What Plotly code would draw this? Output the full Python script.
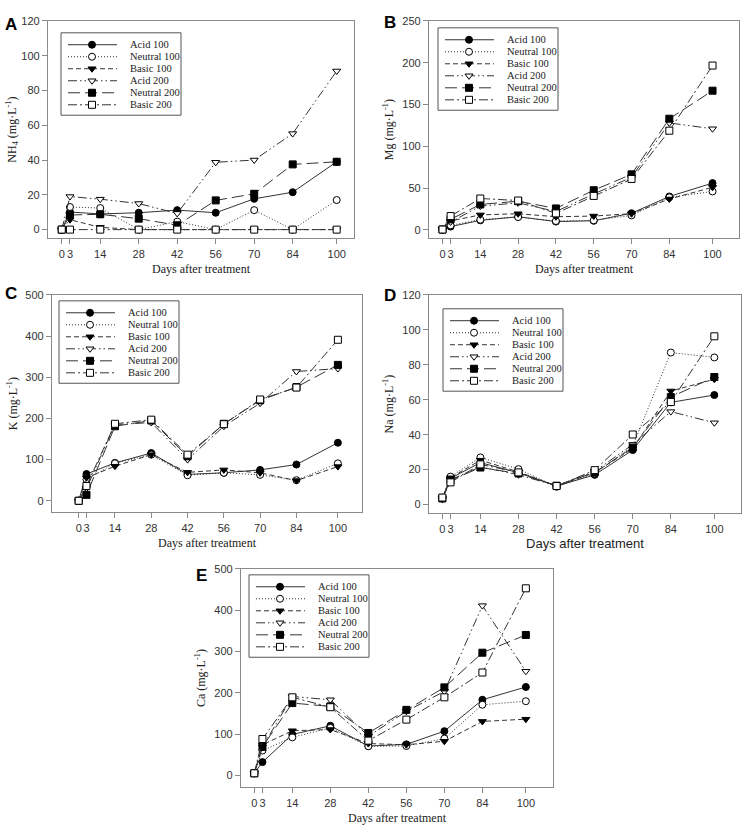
import plotly.graph_objects as go

W, H = 745, 830

days = [0, 3, 14, 28, 42, 56, 70, 84, 100]
day_labels = ["0", "3", "14", "28", "42", "56", "70", "84", "100"]
series_names = ["Acid 100", "Neutral 100", "Basic 100", "Acid 200", "Neutral 200", "Basic 200"]

# Panel A: NH4
nh4_acid100 = [0, 10.1, 9.0, 9.7, 11.2, 9.7, 17.7, 21.5, 39.0]
nh4_neutral100 = [0, 13.0, 12.4, 0, 4.6, 0, 11.2, 0, 17.0]
nh4_basic100 = [0, 5.7, 1.3, 0, 0, 0, 0, 0, 0]
nh4_acid200 = [0, 19.0, 17.5, 15.0, 9.3, 38.7, 40.0, 55.2, 91.2]
nh4_neutral200 = [0, 8.4, 8.8, 6.3, 2.5, 16.8, 20.6, 37.5, 39.0]
nh4_basic200 = [0, 0, 0, 0, 0, 0, 0, 0, 0]

# Panel B: Mg
mg_acid100 = [0.5, 4.0, 11.5, 15.8, 10.0, 11.0, 20.0, 40.0, 56.0]
mg_neutral100 = [0.5, 5.5, 12.3, 15.4, 10.7, 11.5, 17.4, 39.0, 46.0]
mg_basic100 = [0.5, 10.7, 18.0, 19.4, 15.8, 16.6, 19.4, 37.0, 51.0]
mg_acid200 = [0.5, 9.5, 28.5, 32.4, 22.0, 43.0, 63.0, 128.0, 121.0]
mg_neutral200 = [0.5, 12.7, 30.5, 34.4, 25.7, 47.5, 66.5, 133.0, 166.5]
mg_basic200 = [0.5, 16.6, 37.6, 35.2, 19.8, 40.7, 61.0, 118.7, 196.6]

# Panel C: K
k_acid100 = [0, 65, 92, 116, 64, 68, 75, 88, 141]
k_neutral100 = [0, 52, 91, 112, 62, 68, 63, 50, 91]
k_basic100 = [0, 56, 84, 112, 69, 75, 68, 49, 83]
k_acid200 = [0, 30, 185, 190, 100, 181, 237, 314, 321]
k_neutral200 = [0, 14.5, 181, 195, 108, 187, 244, 276, 330]
k_basic200 = [0, 36, 187, 197, 112, 186, 246, 275, 391]

# Panel D: Na
na_acid100 = [3.6, 15.0, 24.0, 18.2, 10.6, 17.0, 31.2, 58.5, 62.7]
na_neutral100 = [4.0, 16.0, 27.0, 20.3, 10.2, 17.8, 33.5, 87.0, 84.2]
na_basic100 = [3.0, 15.3, 25.4, 18.7, 10.6, 18.4, 32.0, 65.0, 71.7]
na_acid200 = [3.5, 14.2, 21.6, 17.0, 10.8, 19.0, 34.4, 53.2, 46.8]
na_neutral200 = [3.5, 13.8, 21.2, 17.8, 10.8, 18.4, 32.6, 61.5, 73.0]
na_basic200 = [4.0, 12.7, 23.0, 18.4, 10.6, 19.7, 40.1, 58.7, 96.3]

# Panel E: Ca
ca_acid100 = [5, 32, 99, 120, 71, 75, 107, 183, 214]
ca_neutral100 = [5, 60, 92, 115, 70.5, 71, 89, 171, 179.5]
ca_basic100 = [5, 74, 108, 111, 77, 74, 82.5, 130.6, 136]
ca_acid200 = [5, 69, 191, 183, 95, 155, 203.5, 411, 252]
ca_neutral200 = [5, 69, 175, 167, 102.6, 158.6, 213, 297, 340]
ca_basic200 = [5, 88, 189, 165, 84, 135, 189, 249, 453]

styles = [
    dict(dash="solid", symbol="circle", fill="black"),
    dict(dash="1px,2px", symbol="circle", fill="white"),
    dict(dash="5px,3px", symbol="triangle-down", fill="black"),
    dict(dash="9px,3px,1.5px,3px,1.5px,3px", symbol="triangle-down", fill="white"),
    dict(dash="12px,5px", symbol="square", fill="black"),
    dict(dash="9px,3px,2px,3px", symbol="square", fill="white"),
]

SERIF = "Liberation Serif, Times New Roman, serif"
SANS = "Liberation Sans, Arial, sans-serif"
LINEC = "#333333"
AXC = "#8a8a8a"

panels = [
    dict(letter="A", data=[nh4_acid100, nh4_neutral100, nh4_basic100, nh4_acid200, nh4_neutral200, nh4_basic200],
         box=(48, 354, 15, 234), xr=[-5, 106.3], yr=[-5, 120], yt=[0, 20, 40, 60, 80, 100, 120],
         ytitle="NH<sub>4</sub> (mg·L<sup>-1</sup>)", xsans=False, leg=(13, 12), lpos=(3, 19), ystand=2),
    dict(letter="B", data=[mg_acid100, mg_neutral100, mg_basic100, mg_acid200, mg_neutral200, mg_basic200],
         box=(429, 739, 15, 234), xr=[-5, 109.8], yr=[-10, 250], yt=[0, 50, 100, 150, 200, 250],
         ytitle="Mg (mg·L<sup>-1</sup>)", xsans=False, leg=(9, 7), lpos=(382, 17), ystand=6),
    dict(letter="C", data=[k_acid100, k_neutral100, k_basic100, k_acid200, k_neutral200, k_basic200],
         box=(52, 362, 291, 510), xr=[-10.3, 109.3], yr=[-28, 500], yt=[0, 100, 200, 300, 400, 500],
         ytitle="K (mg·L<sup>-1</sup>)", xsans=False, leg=(7, 6), lpos=(3, 290), ystand=5),
    dict(letter="D", data=[na_acid100, na_neutral100, na_basic100, na_acid200, na_neutral200, na_basic200],
         box=(429, 741, 291, 511), xr=[-4.9, 109.8], yr=[-5, 120], yt=[0, 20, 40, 60, 80, 100, 120],
         ytitle="Na (mg·L<sup>-1</sup>)", xsans=True, leg=(14, 14), lpos=(382, 292), ystand=6),
    dict(letter="E", data=[ca_acid100, ca_neutral100, ca_basic100, ca_acid200, ca_neutral200, ca_basic200],
         box=(241, 553, 567, 787), xr=[-4.9, 110], yr=[-29, 500], yt=[0, 100, 200, 300, 400, 500],
         ytitle="Ca (mg·L<sup>-1</sup>)", xsans=False, leg=(8, 6), lpos=(194, 574), ystand=6),
]

fig = go.Figure()
layout = dict(width=W, height=H, autosize=False, margin=dict(l=0, r=0, t=0, b=0),
              plot_bgcolor="white", paper_bgcolor="white", showlegend=False)
shapes = []
annotations = []

for i, p in enumerate(panels):
    n = "" if i == 0 else str(i + 1)
    xa, ya = "x" + n, "y" + n
    x0, x1, y0, y1 = p["box"]
    layout["xaxis" + n] = dict(
        domain=[x0 / W, x1 / W], range=p["xr"], anchor=ya, tickvals=days, ticktext=day_labels,
        tickangle=0, showline=True, linecolor=AXC, linewidth=1.2, mirror=True, ticks="outside",
        ticklen=5, tickcolor=AXC, showgrid=False, zeroline=False,
        tickfont=dict(family=SANS, size=11, color="#333"),
        title=dict(text="Days after treatment",
                   font=dict(family=SANS if p["xsans"] else SERIF, size=13 if p["xsans"] else 12, color="#222"),
                   standoff=5),
        fixedrange=True,
    )
    layout["yaxis" + n] = dict(
        domain=[1 - y1 / H, 1 - y0 / H], range=p["yr"], anchor=xa, tickvals=p["yt"],
        showline=True, linecolor=AXC, linewidth=1.2, mirror=True, ticks="outside",
        ticklen=5, tickcolor=AXC, showgrid=False, zeroline=False,
        tickfont=dict(family=SANS, size=11, color="#333"),
        title=dict(text=p["ytitle"], font=dict(family=SERIF, size=12, color="#222"), standoff=p["ystand"]),
        fixedrange=True,
    )
    # data traces
    for s, (name, vals) in enumerate(zip(series_names, p["data"])):
        st = styles[s]
        fig.add_trace(go.Scatter(
            x=days, y=vals, name=name, mode="lines+markers", xaxis=xa, yaxis=ya,
            line=dict(color=LINEC, width=1, dash=st["dash"]),
            marker=dict(symbol=st["symbol"], size=7, color=st["fill"], line=dict(color="black", width=1)),
            cliponaxis=False,
        ))

    # custom legend (px offsets converted to data coordinates of this panel)
    def px2x(px, x0=x0, x1=x1, xr=p["xr"]):
        return xr[0] + (px - x0) / (x1 - x0) * (xr[1] - xr[0])

    def px2y(py, y0=y0, y1=y1, yr=p["yr"]):
        return yr[1] - (py - y0) / (y1 - y0) * (yr[1] - yr[0])

    lx = x0 + p["leg"][0]
    ly = y0 + p["leg"][1]
    bw, bh = 120, 83
    shapes.append(dict(type="rect", xref="paper", yref="paper",
                       x0=lx / W, x1=(lx + bw) / W, y0=1 - (ly + bh) / H, y1=1 - ly / H,
                       line=dict(color="#555", width=1), fillcolor="white", layer="below"))
    for s, name in enumerate(series_names):
        st = styles[s]
        ry = ly + 12 + s * 12.1
        fig.add_trace(go.Scatter(
            x=[px2x(lx + 7), px2x(lx + 56)], y=[px2y(ry), px2y(ry)], mode="lines",
            xaxis=xa, yaxis=ya, line=dict(color=LINEC, width=1, dash=st["dash"]),
            hoverinfo="skip", showlegend=False,
        ))
        fig.add_trace(go.Scatter(
            x=[px2x(lx + 31)], y=[px2y(ry)], mode="markers", xaxis=xa, yaxis=ya,
            marker=dict(symbol=st["symbol"], size=7, color=st["fill"], line=dict(color="black", width=1)),
            hoverinfo="skip", showlegend=False,
        ))
        annotations.append(dict(x=(lx + 67) / W, y=1 - ry / H, xref="paper", yref="paper",
                                text=name, showarrow=False, xanchor="left", yanchor="middle",
                                font=dict(family=SERIF, size=10.5, color="#222")))
    # panel letter
    annotations.append(dict(x=p["lpos"][0] / W, y=1 - p["lpos"][1] / H, xref="paper", yref="paper",
                            text="<b>%s</b>" % p["letter"], showarrow=False, xanchor="left", yanchor="middle",
                            font=dict(family=SANS, size=17, color="black")))

layout["shapes"] = shapes
layout["annotations"] = annotations
fig.update_layout(**layout)
fig.write_html("out.html")
